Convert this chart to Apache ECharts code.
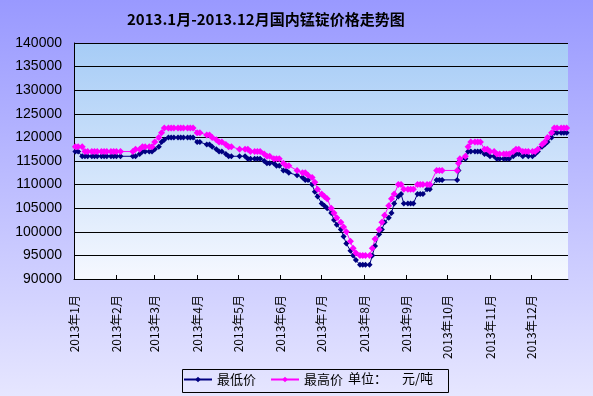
<!DOCTYPE html>
<html>
<head>
<meta charset="utf-8">
<script src="https://cdn.jsdelivr.net/npm/echarts@6/dist/echarts.min.js"></script>
<style>html,body{margin:0;padding:0;}#c{width:593px;height:396px;}</style>
</head>
<body>
<div id="c"></div>
<script>
const titleText = '2013.1月-2013.12月国内锰锭价格走势图';
const seriesNames = ['最低价', '最高价'];
const unitLabel = ['单位：', '元/吨'];
const yTicks = [90000, 95000, 100000, 105000, 110000, 115000, 120000, 125000, 130000, 135000, 140000];
const axisStart = '2013-01-01';
const axisEnd = '2013-12-28';
const monthStarts = ['2013-01-01','2013-02-01','2013-03-01','2013-04-01','2013-05-01','2013-06-01','2013-07-01','2013-08-01','2013-09-01','2013-10-01','2013-11-01','2013-12-01'];
const monthLabels = ['2013年1月','2013年2月','2013年3月','2013年4月','2013年5月','2013年6月','2013年7月','2013年8月','2013年9月','2013年10月','2013年11月','2013年12月'];

const dates = [
'2013-01-02','2013-01-04','2013-01-07','2013-01-09','2013-01-11','2013-01-14','2013-01-16','2013-01-18','2013-01-21','2013-01-23','2013-01-25','2013-01-28','2013-01-30',
'2013-02-01','2013-02-04','2013-02-13','2013-02-15','2013-02-18','2013-02-20','2013-02-22','2013-02-25','2013-02-27',
'2013-03-01','2013-03-04','2013-03-06','2013-03-08','2013-03-11','2013-03-13','2013-03-15','2013-03-18','2013-03-20','2013-03-22','2013-03-25','2013-03-27','2013-03-29',
'2013-04-01','2013-04-03','2013-04-08','2013-04-10','2013-04-12','2013-04-15','2013-04-17','2013-04-19','2013-04-22','2013-04-24','2013-04-26',
'2013-05-02','2013-05-06','2013-05-08','2013-05-10','2013-05-13','2013-05-15','2013-05-17','2013-05-20','2013-05-22','2013-05-24','2013-05-27','2013-05-29','2013-05-31',
'2013-06-03','2013-06-05','2013-06-07','2013-06-13','2013-06-17','2013-06-19','2013-06-21','2013-06-24','2013-06-26','2013-06-28',
'2013-07-01','2013-07-03','2013-07-05','2013-07-08','2013-07-10','2013-07-12','2013-07-15','2013-07-17','2013-07-19','2013-07-22','2013-07-24','2013-07-26','2013-07-29','2013-07-31',
'2013-08-02','2013-08-05','2013-08-07','2013-08-09','2013-08-12','2013-08-14','2013-08-16','2013-08-19','2013-08-21','2013-08-23','2013-08-26','2013-08-28','2013-08-30',
'2013-09-02','2013-09-04','2013-09-06','2013-09-09','2013-09-11','2013-09-13','2013-09-16','2013-09-18','2013-09-23','2013-09-25','2013-09-27',
'2013-10-08','2013-10-09','2013-10-10','2013-10-14','2013-10-16','2013-10-18','2013-10-21','2013-10-23','2013-10-25','2013-10-28','2013-10-30',
'2013-11-01','2013-11-04','2013-11-06','2013-11-08','2013-11-11','2013-11-13','2013-11-15','2013-11-18','2013-11-20','2013-11-22','2013-11-25','2013-11-27','2013-11-29',
'2013-12-02','2013-12-04','2013-12-06','2013-12-09','2013-12-11','2013-12-13','2013-12-16','2013-12-18','2013-12-20','2013-12-23','2013-12-25','2013-12-27'
];

const lowPrice = [
117000,117000,116000,116000,116000,116000,116000,116000,116000,116000,116000,116000,116000,
116000,116000,116000,116000,116500,117000,117000,117000,117000,
117500,118000,119000,119500,120000,120000,120000,120000,120000,120000,120000,120000,120000,
119000,119000,118500,118500,118000,117500,117000,117000,116500,116000,116000,
116000,116000,115500,115500,115500,115500,115500,115000,114500,114500,114500,114000,114000,
113000,113000,112500,112000,111500,111000,111000,110000,108500,107500,
106000,105500,105000,104000,102500,101500,100500,99000,97500,96000,95000,94000,93000,93000,
93000,93000,95000,97000,99500,100500,102000,103000,104000,106000,107500,108000,106000,
106000,106000,106000,108000,108000,108000,109000,109000,111000,111000,111000,
111000,113000,115000,115500,117000,117000,117000,117000,117000,116500,116500,
116000,116000,115500,115500,115500,115500,115500,116000,116500,116500,116000,116500,116000,
116000,116500,117000,118000,118500,119000,120000,121000,121000,121000,121000,121000
];

const highPrice = [
118000,118000,118000,117000,117000,117000,117000,117000,117000,117000,117000,117000,117000,
117000,117000,117000,117500,117500,118000,118000,118000,118000,
119000,120000,121000,122000,122000,122000,122000,122000,122000,122000,122000,122000,122000,
121000,121000,120500,120500,120000,119500,119000,119000,118500,118000,118000,
117500,117500,117500,117000,117000,117000,117000,116500,116000,116000,115500,115500,115500,
114500,114000,114000,113000,112500,112500,112000,111500,110500,109000,
108000,107500,107000,105000,104000,103000,102000,101000,100000,98000,96500,95500,95000,95000,
95000,95000,96500,98500,100500,102000,103500,105500,107000,108000,110000,110000,109000,
109000,109000,109000,110000,110000,110000,110000,110000,113000,113000,113000,
113000,114500,115500,116000,118000,119000,119000,119000,119000,117500,117500,
117000,117000,116500,116500,116500,116500,116500,117000,117500,117500,117000,117000,117000,
117000,117000,117500,118500,119000,120000,121000,122000,122000,122000,122000,122000
];

// convert a date string to its day offset from the axis start (x coordinate on a value axis)
function dayOf(s){
  const p = s.split('-'), q = axisStart.split('-');
  return Math.round((Date.UTC(+p[0], +p[1]-1, +p[2]) - Date.UTC(+q[0], +q[1]-1, +q[2])) / 86400000);
}
const monthDays = monthStarts.map(dayOf);

const chart = echarts.init(document.getElementById('c'), null, {renderer:'canvas'});
const cjk = '"Noto Sans CJK SC", sans-serif';
chart.setOption({
  animation: false,
  backgroundColor: new echarts.graphic.LinearGradient(0,0,0,1,[{offset:0,color:'#9999FF'},{offset:1,color:'#E6E6FF'}]),
  title: {
    text: titleText, left: 127, top: 12, padding: 0,
    textStyle: {fontSize: 15, fontWeight: 'bold', color: '#000', fontFamily: cjk}
  },
  legend: {
    left: 183, top: 373, padding: 0, itemWidth: 28, itemHeight: 7, itemGap: 14,
    data: seriesNames,
    textStyle: {fontSize: 13, color: '#000', fontFamily: cjk}
  },
  graphic: [
    {type:'rect', left:182, top:369, z: 10, shape:{width:266, height:23}, style:{fill:'rgba(0,0,0,0)', stroke:'#000', lineWidth:1}},
    {type:'text', left:348, top:372, z: 10, style:{text: unitLabel[0], fill:'#000', font:'13px "Noto Sans CJK SC"'}},
    {type:'text', left:402, top:372, z: 10, style:{text: unitLabel[1], fill:'#000', font:'13px "Noto Sans CJK SC"'}}
  ],
  grid: {
    left: 74, right: 25, top: 43, bottom: 117, show: true, borderWidth: 0,
    backgroundColor: new echarts.graphic.LinearGradient(0,0,0,1,[{offset:0,color:'#A6CCF6'},{offset:1,color:'#F6F8FF'}])
  },
  xAxis: {
    type: 'value',
    min: dayOf(axisStart), max: dayOf(axisEnd),
    axisLine: {lineStyle: {color:'#000', width:1}},
    axisTick: {show:true, inside:true, length:4, lineStyle:{color:'#000'}, customValues: monthDays},
    axisLabel: {
      customValues: monthDays, rotate: 90, margin: 16, color:'#000', fontSize: 12, fontFamily: cjk,
      formatter: function(v){ return monthLabels[monthDays.indexOf(v)]; }
    },
    splitLine: {show:false}
  },
  yAxis: {
    type: 'value', min: yTicks[0], max: yTicks[yTicks.length-1], interval: 5000,
    axisLine: {show:true, lineStyle:{color:'#000', width:1}},
    axisTick: {show:false},
    axisLabel: {color:'#000', fontSize: 14, margin: 12, fontFamily: '"Liberation Sans", sans-serif',
      formatter: function(v){ return String(v); }},
    splitLine: {show:true, lineStyle:{color:'#000', width:1}}
  },
  series: [
    {
      name: seriesNames[0], type: 'line', showAllSymbol: true,
      symbol: 'diamond', symbolSize: 6,
      lineStyle: {color:'#000080', width:1},
      itemStyle: {color:'#000080'},
      data: dates.map((d,i)=>[dayOf(d), lowPrice[i]])
    },
    {
      name: seriesNames[1], type: 'line', showAllSymbol: true,
      symbol: 'diamond', symbolSize: 7,
      lineStyle: {color:'#FF00FF', width:1},
      itemStyle: {color:'#FF00FF'},
      data: dates.map((d,i)=>[dayOf(d), highPrice[i]])
    }
  ]
});
</script>
</body>
</html>
